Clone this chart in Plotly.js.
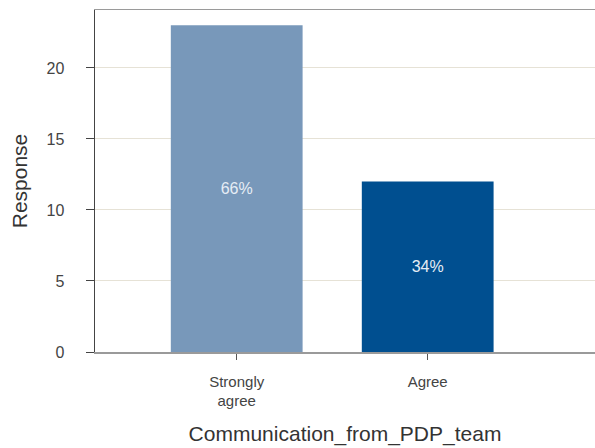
<!DOCTYPE html>
<html>
<head>
<meta charset="utf-8">
<script src="https://cdn.plot.ly/plotly-3.0.1.min.js"></script>
<style>
  html, body { margin: 0; padding: 0; background: #fff; }
  #chart { width: 595px; height: 448px; }
</style>
</head>
<body>
<div id="chart"></div>
<script>
// Responses to "Communication_from_PDP_team"
const categories = ["Strongly<br>agree", "Agree"];
const responses = [23, 12];
const shareLabels = ["66%", "34%"];
const barColors = ["#7898ba", "#004f90"];

const trace = {
  type: "bar",
  x: categories,
  y: responses,
  text: shareLabels,
  textposition: "inside",
  insidetextanchor: "middle",
  textfont: { family: "Liberation Sans, Arial, sans-serif", size: 16, color: "#e6edf5" },
  marker: { color: barColors, line: { width: 0 } },
  width: 0.69,
  hoverinfo: "x+y"
};

const layout = {
  width: 595,
  height: 448,
  margin: { l: 95, r: 0, t: 10, b: 96 },
  paper_bgcolor: "#ffffff",
  plot_bgcolor: "#ffffff",
  showlegend: false,
  font: { family: "Liberation Sans, Arial, sans-serif", color: "#444" },
  xaxis: {
    type: "category",
    range: [-0.742, 1.876],
    showline: true,
    mirror: true,
    linecolor: "#9a9a9a",
    linewidth: 1.5,
    showgrid: false,
    zeroline: false,
    ticks: "outside",
    ticklen: 6,
    tickcolor: "#555",
    tickfont: { size: 15, color: "#444" },
    ticklabelstandoff: 9,
    title: { text: "Communication_from_PDP_team", font: { size: 21, color: "#333" }, standoff: 18 }
  },
  yaxis: {
    range: [0, 24.08],
    tickvals: [0, 5, 10, 15, 20],
    showline: true,
    linecolor: "#444",
    linewidth: 1.5,
    showgrid: true,
    gridcolor: "#e6e2d6",
    gridwidth: 1,
    zeroline: false,
    ticks: "outside",
    ticklen: 8,
    tickcolor: "#444",
    tickfont: { size: 16, color: "#444" },
    ticklabelstandoff: 18,
    title: { text: "Response", font: { size: 21, color: "#333" }, standoff: 13 }
  }
};

Plotly.newPlot("chart", [trace], layout, { displayModeBar: false, staticPlot: true });
</script>
</body>
</html>
